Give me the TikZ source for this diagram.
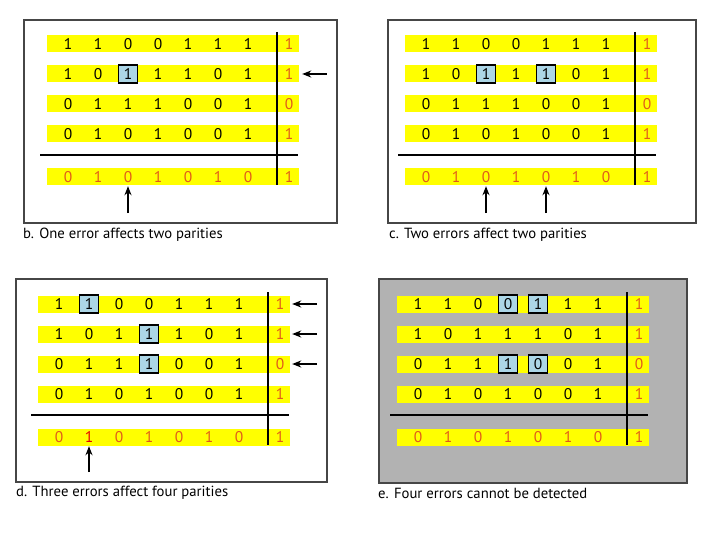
\documentclass[tikz,border=0pt]{standalone}
\usepackage{fontspec}
\setmainfont{PT Sans}
\usetikzlibrary{arrows.meta}

\definecolor{stripyellow}{RGB}{255,255,0}
\definecolor{parityorange}{RGB}{224,90,26}
\definecolor{errblue}{RGB}{172,214,230}
\definecolor{panelgray}{RGB}{178,178,178}
\definecolor{framegray}{RGB}{70,70,70}

\begin{document}
\begin{tikzpicture}[
  x=1pt, y=-1pt,
  >={Stealth[length=9pt, width=7pt]},
  bit/.style={font=\fontsize{15.5}{16}\selectfont, inner sep=0pt, minimum width=19pt, minimum height=18pt},
  col8/.style={text=parityorange},
  row5/.style={text=parityorange},
  errbox/.style={draw, line width=1.4pt, fill=errblue},
  strip/.style={fill=stripyellow},
  rule/.style={line width=2.6pt},
  frame/.style={draw=framegray, line width=1.2pt},
  caption/.style={font=\fontsize{14.7}{16}\selectfont, anchor=west, inner sep=0pt},
  flag/.style={->, line width=1.6pt},
  % flipped bits, per panel
  cell b-2-3/.style={errbox},
  cell c-2-3/.style={errbox}, cell c-2-5/.style={errbox},
  cell d-1-2/.style={errbox}, cell d-2-4/.style={errbox}, cell d-3-4/.style={errbox},
  cell d-5-2/.style={text=red!90!black},
  cell e-1-4/.style={errbox}, cell e-1-5/.style={errbox},
  cell e-3-4/.style={errbox}, cell e-3-5/.style={errbox},
]
  \useasboundingbox (0,0) rectangle (720,540);

  \draw[frame] (24,20) rectangle (337,223);
  \draw[frame] (388,20) rectangle (696,223);
  \draw[frame] (16,279) rectangle (327,482);
  \draw[frame, fill=panelgray] (379,279) rectangle (687,483);

  % same block in all four panels, only the flipped bits change
  \foreach \p/\ox/\oy in {b/47/44, c/405/44, d/38/304, e/397/304} {
    \begin{scope}[shift={(\ox,\oy)}]
      \foreach \y in {0,30,60,90,133} \fill[strip] (0,\y-8.5) rectangle (252,\y+8.5);
      \draw[rule] (-7,111) -- (251,111);
      \draw[rule] (230,-12) -- (230,141);
      \foreach \bits [count=\r] in {{1,1,0,0,1,1,1,1},{1,0,1,1,1,0,1,1},{0,1,1,1,0,0,1,0},{0,1,0,1,0,0,1,1},{0,1,0,1,0,1,0,1}} {
        \pgfmathsetmacro\yy{\r<5 ? 30*(\r-1) : 133}
        \foreach \val [count=\c] in \bits {
          \pgfmathsetmacro\xx{\c<8 ? 21+30*(\c-1) : 242}
          \node[bit, col\c/.try, row\r/.try, cell \p-\r-\c/.try] (\p-\r-\c) at (\xx,\yy) {\val};
        }
      }
    \end{scope}
  }

  % b
  \coordinate (b-in) at ([xshift=28pt]b-2-8.east);
  \draw[flag, shorten >=3.5pt] (b-in) -- (b-2-8.east);
  \coordinate (b-up) at ([yshift=-27pt]b-5-3.south);
  \draw[flag] (b-up) -- (b-5-3.south);

  % c
  \foreach \c in {3,5} {
    \coordinate (c-up\c) at ([yshift=-27pt]c-5-\c.south);
    \draw[flag] (c-up\c) -- (c-5-\c.south);
  }

  % d
  \foreach \r in {1,2,3} {
    \coordinate (d-in\r) at ([xshift=27.5pt]d-\r-8.east);
    \draw[flag, shorten >=2.5pt] (d-in\r) -- (d-\r-8.east);
  }
  \coordinate (d-up) at ([yshift=-26pt]d-5-2.south);
  \draw[flag] (d-up) -- (d-5-2.south);

  \node[caption] (cap-b) at (23,235) {b. One error affects two parities};
  \node[caption] (cap-c) at (389,235) {c. Two errors affect two parities};
  \node[caption] (cap-d) at (16,493) {d. Three errors affect four parities};
  \node[caption] (cap-e) at (378,493) {e. Four errors cannot be detected};
\end{tikzpicture}
\end{document}
